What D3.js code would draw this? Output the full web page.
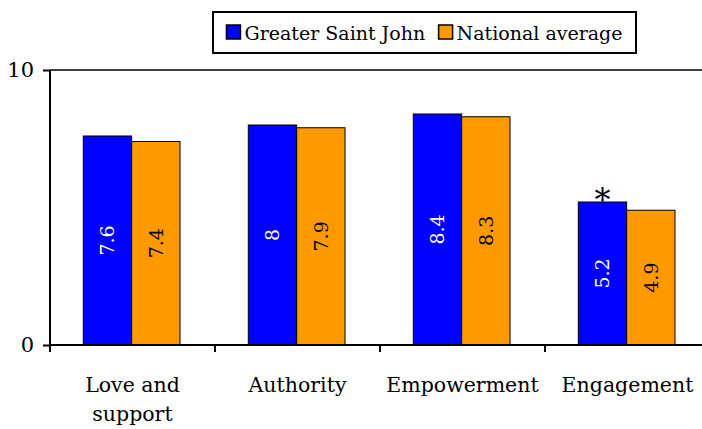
<!DOCTYPE html>
<html><head><meta charset="utf-8">
<script src="https://cdn.jsdelivr.net/npm/d3@7"></script>
<style>
body{margin:0;background:#fff;}
svg{display:block;}
svg text{font-family:"DejaVu Serif",serif;}
</style></head>
<body>
<svg id="c" width="702" height="429"></svg>
<script>
const categories = ["Love and support","Authority","Empowerment","Engagement"];
const categoryLines = [["Love and","support"],["Authority"],["Empowerment"],["Engagement"]];
const seriesNames = ["Greater Saint John","National average"];
const saintJohn = [7.6, 8.0, 8.4, 5.2];
const national = [7.4, 7.9, 8.3, 4.9];
const labelsSJ = ["7.6","8","8.4","5.2"];
const labelsNat = ["7.4","7.9","8.3","4.9"];
const significant = [false,false,false,true];
const yTicks = [0, 10];
const colors = ["#0000ff","#ff9900"];
const textColors = ["#ffffff","#000000"];
const FONT = "DejaVu Serif";

const svg = d3.select("#c");
const x0 = d3.scaleBand().domain(categories).range([50, 710]).paddingInner(0).paddingOuter(0);
const x1 = d3.scaleBand().domain(seriesNames).range([33.3, 130]);
const y = d3.scaleLinear().domain([0,10]).range([345,70]);

// top border line
svg.append("line").attr("x1",50).attr("x2",702).attr("y1",y(10)).attr("y2",y(10))
  .attr("stroke","#000").attr("stroke-width",1.5);

const values = [saintJohn, national];
const labels = [labelsSJ, labelsNat];
const g = svg.append("g");
categories.forEach((c,i)=>{
  seriesNames.forEach((s,j)=>{
    const v = values[j][i];
    const bx = x0(c)+x1(s), bw = x1.bandwidth();
    g.append("rect").attr("x",bx).attr("y",y(v)).attr("width",bw).attr("height",y(0)-y(v))
      .attr("fill",colors[j]).attr("stroke","#000").attr("stroke-width",1);
    const cx = bx + bw/2, cy = (y(v)+y(0))/2;
    g.append("text").attr("transform",`translate(${cx},${cy}) rotate(-90)`)
      .attr("text-anchor","middle").attr("dominant-baseline","central")
      .attr("font-family",FONT).attr("font-size",19).attr("fill",textColors[j]).text(labels[j][i]);
    if (j===0 && significant[i]) {
      g.append("text").attr("x",cx).attr("y",y(v)+9).attr("text-anchor","middle")
        .attr("font-family",FONT).attr("font-size",32).attr("fill","#000").text("*");
    }
  });
});

// y axis
const yAxis = d3.axisLeft(y).tickValues(yTicks).tickSize(7).tickPadding(9).tickFormat(d3.format("d"));
const ya = svg.append("g").attr("transform","translate(50,0)").call(yAxis);
ya.attr("font-family",FONT).attr("font-size",21);
ya.select(".domain").attr("stroke","#000").attr("stroke-width",2).attr("d","M0,70V345");
ya.selectAll(".tick line").attr("stroke","#000").attr("stroke-width",2);
ya.selectAll(".tick text").attr("font-family",FONT).attr("font-size",21).attr("fill","#000");

// x axis
const xa = svg.append("g").attr("transform","translate(0,345)");
xa.append("line").attr("x1",50).attr("x2",702).attr("y1",0).attr("y2",0).attr("stroke","#000").attr("stroke-width",2);
const bounds = categories.map(c=>x0(c)).concat([x0.range()[1]]);
xa.selectAll("line.tk").data(bounds).join("line").attr("class","tk")
  .attr("x1",d=>d).attr("x2",d=>d).attr("y1",0).attr("y2",7).attr("stroke","#000").attr("stroke-width",2);
categories.forEach((c,i)=>{
  const t = xa.append("text").attr("text-anchor","middle").attr("font-family",FONT).attr("font-size",20.5).attr("fill","#000");
  categoryLines[i].forEach((ln,k)=>{
    t.append("tspan").attr("x",x0(c)+x0.bandwidth()/2).attr("y",47+k*29).text(ln);
  });
});

// legend
const boxL = 213, boxR = 636;
const lg = svg.append("g");
lg.append("rect").attr("x",boxL).attr("y",12).attr("width",boxR-boxL).attr("height",41)
  .attr("fill","#fff").attr("stroke","#000").attr("stroke-width",2);
const texts = seriesNames.map(s=> lg.append("text").attr("y",40).attr("font-family",FONT)
  .attr("font-size",19).attr("fill","#000").text(s));
const widths = texts.map(t=>t.node().getComputedTextLength());
const sq = 14, gapIn = 4;
const used = 2*(sq+gapIn) + widths[0] + widths[1];
const gapOut = Math.max(3,(boxR-boxL-used)/3);
let cx = boxL + gapOut;
seriesNames.forEach((s,j)=>{
  lg.append("rect").attr("x",cx).attr("y",25).attr("width",sq).attr("height",sq)
    .attr("fill",colors[j]).attr("stroke","#000").attr("stroke-width",1.5);
  texts[j].attr("x",cx+sq+gapIn);
  cx += sq + gapIn + widths[j] + gapOut;
});
</script>
</body></html>
